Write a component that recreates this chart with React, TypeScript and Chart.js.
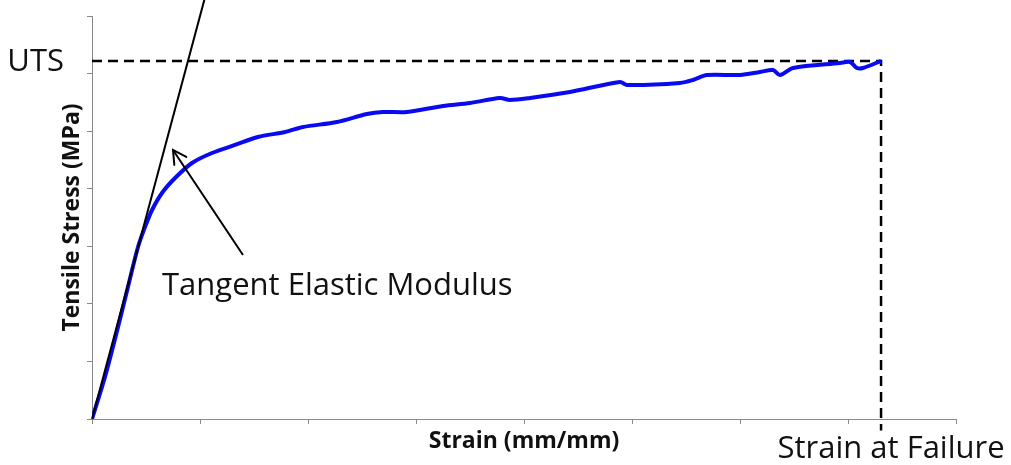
import React, { useEffect, useRef } from "react";
import { Chart, registerables } from "chart.js";

Chart.register(...registerables);

// Measured stress–strain curve (strain in axis units, stress in axis units)
const strain = [
  0, 0.12, 0.241, 0.333, 0.426, 0.491, 0.556, 0.648, 0.769, 0.926, 1.111, 1.324,
  1.537, 1.787, 1.954, 2.269, 2.546, 2.694, 2.917, 3.25, 3.5, 3.778, 3.87, 4.056,
  4.426, 4.889, 4.954, 5.444, 5.565, 5.694, 6.0, 6.185, 6.306, 6.37, 6.491, 6.926,
  7.019, 7.083, 7.139, 7.306,
];
const stress = [
  0, 0.73, 1.598, 2.293, 2.988, 3.335, 3.63, 3.926, 4.186, 4.447, 4.62, 4.76,
  4.898, 4.985, 5.072, 5.159, 5.298, 5.333, 5.333, 5.437, 5.489, 5.576, 5.541, 5.576,
  5.68, 5.854, 5.802, 5.836, 5.889, 5.975, 5.975, 6.027, 6.062, 5.975, 6.097, 6.184,
  6.201, 6.097, 6.097, 6.219,
];

// Key values
const uts = 6.219;
const strainAtFailure = 7.306;
const tangentModulus = 7.0;
const tangentEndStrain = 1.04;

// Arrow pointing at the tangent region: [tail, tip]
const arrowStrain = [1.398, 0.75];
const arrowStress = [2.849, 4.673];

// Axis ranges
const xMax = 8;
const yMax = 7;

const labelFont = "'Open Sans', Lato, sans-serif";

const annotations = {
  id: "annotations",
  afterDatasetsDraw(chart: any) {
    const { ctx, scales, chartArea } = chart;
    const xs = scales.x;
    const ys = scales.y;
    ctx.save();

    // arrow head
    const tx = xs.getPixelForValue(arrowStrain[1]);
    const ty = ys.getPixelForValue(arrowStress[1]);
    const sx = xs.getPixelForValue(arrowStrain[0]);
    const sy = ys.getPixelForValue(arrowStress[0]);
    const ang = Math.atan2(ty - sy, tx - sx);
    const head = 15;
    const spread = 0.5;
    ctx.strokeStyle = "#000";
    ctx.lineWidth = 2;
    ctx.lineCap = "round";
    ctx.beginPath();
    ctx.moveTo(tx - head * Math.cos(ang - spread), ty - head * Math.sin(ang - spread));
    ctx.lineTo(tx, ty);
    ctx.lineTo(tx - head * Math.cos(ang + spread), ty - head * Math.sin(ang + spread));
    ctx.stroke();

    // labels
    ctx.fillStyle = "#111";
    ctx.textBaseline = "alphabetic";
    ctx.font = `31px ${labelFont}`;
    ctx.textAlign = "right";
    ctx.fillText("UTS", chartArea.left - 28, ys.getPixelForValue(uts) + 10);

    ctx.textAlign = "left";
    ctx.fillText("Tangent Elastic Modulus", 162, 295);

    ctx.textAlign = "center";
    ctx.fillText("Strain at Failure", xs.getPixelForValue(strainAtFailure) + 10, 458);
    ctx.restore();
  },
};

export default function App() {
  const ref = useRef<HTMLCanvasElement>(null);

  useEffect(() => {
    if (!ref.current) return;
    const curve = strain.map((x, i) => ({ x, y: stress[i] }));
    const chart = new Chart(ref.current, {
      type: "scatter",
      data: {
        datasets: [
          {
            label: "Stress–strain",
            data: curve,
            showLine: true,
            borderColor: "#0a0af0",
            borderWidth: 4,
            pointRadius: 0,
            tension: 0.3,
            order: 1,
          },
          {
            label: "Tangent",
            data: [
              { x: 0, y: 0 },
              { x: tangentEndStrain, y: tangentEndStrain * tangentModulus },
            ],
            showLine: true,
            borderColor: "#000",
            borderWidth: 2,
            pointRadius: 0,
            clip: false,
            order: 0,
          },
          {
            label: "UTS guide",
            data: [
              { x: 0, y: uts },
              { x: strainAtFailure, y: uts },
              { x: strainAtFailure, y: -0.2 },
            ],
            showLine: true,
            borderColor: "#000",
            borderWidth: 2.5,
            borderDash: [10, 6],
            pointRadius: 0,
            clip: false,
            order: 2,
          },
          {
            label: "Arrow",
            data: arrowStrain.map((x, i) => ({ x, y: arrowStress[i] })),
            showLine: true,
            borderColor: "#000",
            borderWidth: 2,
            pointRadius: 0,
            order: 0,
          },
        ],
      },
      options: {
        responsive: false,
        animation: false,
        devicePixelRatio: 1,
        layout: { padding: { left: 0, right: 55, top: 16, bottom: 0 } },
        plugins: {
          legend: { display: false },
          tooltip: { enabled: false },
        },
        scales: {
          x: {
            type: "linear",
            min: 0,
            max: xMax,
            ticks: { stepSize: 1, callback: () => "" },
            grid: {
              drawOnChartArea: false,
              drawTicks: true,
              tickLength: 5,
              color: "#8a8a8a",
            },
            border: { display: true, color: "#8a8a8a", width: 1 },
            title: {
              display: true,
              text: "Strain (mm/mm)",
              color: "#111",
              font: { family: labelFont, size: 23, weight: "bold" },
              padding: { top: 0, bottom: 10 },
            },
            afterFit: (s: any) => {
              s.height = 46;
            },
          },
          y: {
            type: "linear",
            min: 0,
            max: yMax,
            ticks: { stepSize: 1, callback: () => "" },
            grid: {
              drawOnChartArea: false,
              drawTicks: true,
              tickLength: 5,
              color: "#8a8a8a",
            },
            border: { display: true, color: "#8a8a8a", width: 1 },
            title: {
              display: true,
              text: "Tensile Stress (MPa)",
              color: "#111",
              font: { family: labelFont, size: 23, weight: "bold" },
              padding: { top: 59, bottom: 0 },
            },
            afterFit: (s: any) => {
              s.width = 92;
            },
          },
        },
      },
      plugins: [annotations],
    });
    return () => chart.destroy();
  }, []);

  return (
    <div style={{ position: "absolute", left: 0, top: 0, width: 1011, height: 465, background: "#fff" }}>
      <canvas ref={ref} width={1011} height={465} />
    </div>
  );
}
